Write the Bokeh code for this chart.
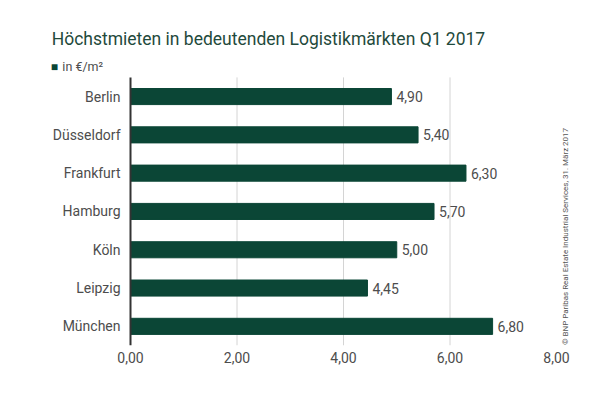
from bokeh.plotting import figure
from bokeh.models import Range1d, FixedTicker, Label, ColumnDataSource, CustomJSTickFormatter
from bokeh.core.properties import value
from bokeh.embed import file_html
from bokeh.resources import INLINE

cities = ["Berlin", "Düsseldorf", "Frankfurt", "Hamburg", "Köln", "Leipzig", "München"]
rents = [4.90, 5.40, 6.30, 5.70, 5.00, 4.45, 6.80]
x_ticks = [0, 2, 4, 6, 8]
grid_ticks = [2, 4, 6]
title_text = "Höchstmieten in bedeutenden Logistikmärkten Q1 2017"
legend_text = "in €/m²"
source_text = "© BNP Paribas Real Estate Industrial Services, 31. März 2017"

FONT = "Roboto"
GREEN = "#0b4636"
TEXT = "#4d4d4d"

n = len(cities)
ypos = [n - 1 - i for i in range(n)]
labels = [f"{v:.2f}".replace(".", ",") for v in rents]
src = ColumnDataSource(dict(city=cities, rent=rents, label=labels, y=ypos, zero=[0] * n))

W, H = 584, 381
left_px, px_per_unit = 130, 53.25
bottom_px, row_px = 36, 38.3
x0 = -left_px / px_per_unit
y0 = -0.5
p = figure(width=W, height=H, output_backend="svg", toolbar_location=None, title=None,
           x_range=Range1d(x0, x0 + W / px_per_unit),
           y_range=Range1d(y0, y0 + (H - bottom_px) / row_px),
           min_border_left=0, min_border_right=0, min_border_top=0, min_border_bottom=bottom_px)
p.outline_line_color = None
p.background_fill_color = "white"
p.border_fill_color = "white"
p.yaxis.visible = False
p.xgrid.grid_line_color = None
p.ygrid.grid_line_color = None

# grid lines limited to the bar area
p.segment(x0=grid_ticks, x1=grid_ticks, y0=[-0.5] * len(grid_ticks), y1=[n - 0.5] * len(grid_ticks),
          line_color="#d4d4d4", line_width=1)

p.hbar(y="y", right="rent", left=0, height=0.42, source=src, color=GREEN)

# category axis: line at x=0 and labels
p.segment(x0=[0], x1=[0], y0=[-0.5], y1=[n - 0.5], line_color="#333333", line_width=2)
p.text(x="zero", y="y", text="city", source=src, x_offset=-10,
       text_baseline="middle", text_align="right", text_font=value(FONT),
       text_font_size="14px", text_color=TEXT)

p.text(x="rent", y="y", text="label", source=src, x_offset=5,
       text_baseline="middle", text_align="left", text_font=value(FONT),
       text_font_size="14px", text_color=TEXT)

p.xaxis.ticker = FixedTicker(ticks=x_ticks)
p.xaxis.formatter = CustomJSTickFormatter(code="return tick.toFixed(2).replace('.', ',');")
p.xaxis.axis_line_color = None
p.xaxis.major_tick_line_color = None
p.xaxis.minor_tick_line_color = None
p.xaxis.major_label_text_font = FONT
p.xaxis.major_label_text_font_size = "14px"
p.xaxis.major_label_text_color = TEXT
p.xaxis.major_label_standoff = 0

p.add_layout(Label(x=-1.48, y=7.49, text=title_text, text_font=FONT, text_font_size="17.5px",
                   text_color="#1f4a3c", text_baseline="middle"))
p.add_layout(Label(x=-1.50, y=6.78, text="■", text_font=FONT, text_font_size="12px",
                   text_color=GREEN, text_baseline="middle"))
p.add_layout(Label(x=-1.28, y=6.78, text=legend_text, text_font=FONT, text_font_size="12.5px",
                   text_color=TEXT, text_baseline="middle"))
p.add_layout(Label(x=8.17, y=2.35, text=source_text, text_font=FONT, text_font_size="8px",
                   text_color="#555555", text_baseline="middle", text_align="center", angle=1.5708))

open("out.html", "w").write(file_html(p, INLINE))
